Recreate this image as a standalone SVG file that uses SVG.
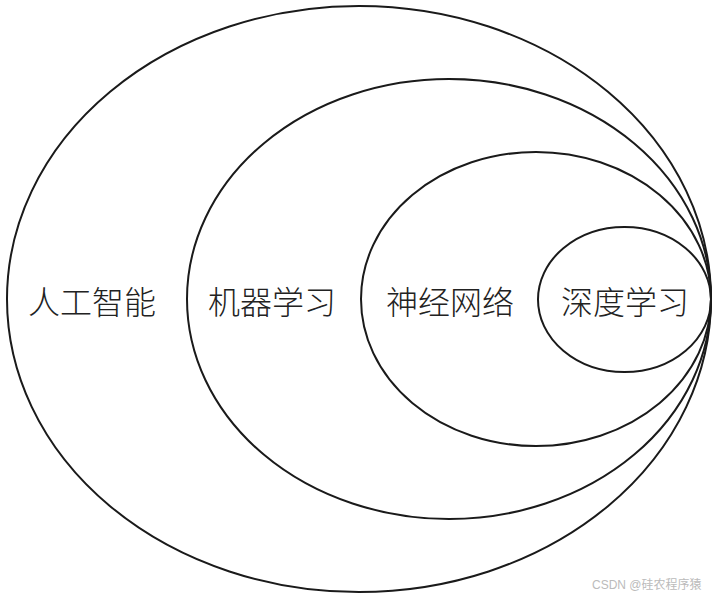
<svg xmlns="http://www.w3.org/2000/svg" width="717" height="599" viewBox="0 0 717 599">
<style>
.e{fill:none;stroke:#1a1a1a;stroke-width:2}
.t{font-family:"Noto Sans CJK SC","Noto Sans CJK JP",sans-serif;font-size:32px;font-weight:300;fill:#222;text-anchor:middle}
.w{font-family:"Liberation Sans","Noto Sans CJK SC",sans-serif;font-size:12px;fill:#bbb}
</style>
<rect width="717" height="599" fill="#fff"/>
<g id="ai">
<ellipse class="e" cx="359" cy="299" rx="352" ry="293"/>
<text class="t" x="92" y="314">人工智能</text>
</g>
<g id="ml">
<ellipse class="e" cx="449" cy="299" rx="262" ry="220"/>
<text class="t" x="272" y="314">机器学习</text>
</g>
<g id="nn">
<ellipse class="e" cx="536" cy="299" rx="175" ry="147"/>
<text class="t" x="450" y="314">神经网络</text>
</g>
<g id="dl">
<ellipse class="e" cx="624.5" cy="299.5" rx="86.5" ry="72.5"/>
<text class="t" x="625" y="314">深度学习</text>
</g>
<g id="connectors"/>
<text class="w" x="592" y="589">CSDN @硅农程序猿</text>
</svg>
